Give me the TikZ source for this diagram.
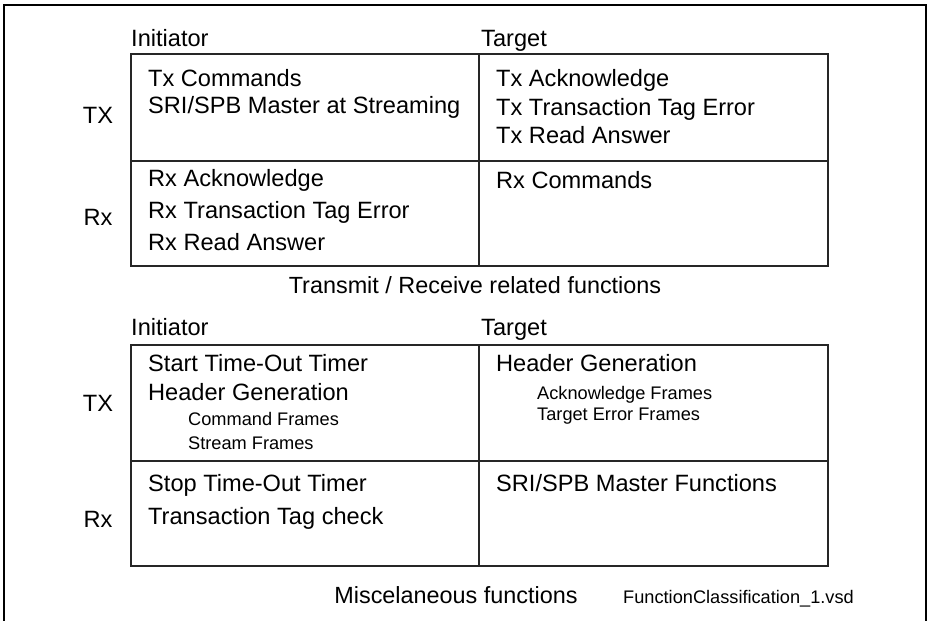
\documentclass[tikz,border=0pt]{standalone}
\usepackage{fontspec}
\setmainfont{Liberation Sans}

\begin{document}
\begin{tikzpicture}[x=1pt,y=-1pt,
  txt/.style={anchor=base west,inner sep=0pt,font=\fontsize{23.6}{28}\selectfont},
  subtxt/.style={anchor=base west,inner sep=0pt,font=\fontsize{18.2}{22}\selectfont},
  rowlbl/.style={inner sep=0pt,font=\fontsize{23.6}{28}\selectfont},
  caption/.style={anchor=base,inner sep=0pt,font=\fontsize{23.4}{28}\selectfont},
  grid/.style={line width=1.2pt,black!85}]
\useasboundingbox (0,0) rectangle (927,621);
% Marc exterior (obert per baix)
\draw[line width=1.5pt] (4,621) -- (4,5) -- (926,5) -- (926,621);

% Taula superior: Tx/Rx
\draw[grid] (131,54) rectangle (828,266);
\draw[grid] (479,54) -- (479,266);
\draw[grid] (131,161) -- (828,161);
\node[txt] (iniA) at (131,46) {Initiator};
\node[txt] (tarA) at (481,46) {Target};
\node[rowlbl] (txA) at (98,115) {TX};
\node[rowlbl] (rxA) at (98,217) {Rx};
\node[txt] (txcmd) at (148,86) {Tx Commands};
\node[txt] (txsri) at (148,113) {SRI/SPB Master at Streaming};
\node[txt] (txack) at (496,86) {Tx Acknowledge};
\node[txt] (txtag) at (496,115) {Tx Transaction Tag Error};
\node[txt] (txread) at (496,143) {Tx Read Answer};
\node[txt] (rxack) at (148,186) {Rx Acknowledge};
\node[txt] (rxtag) at (148,218) {Rx Transaction Tag Error};
\node[txt] (rxread) at (148,250) {Rx Read Answer};
\node[txt] (rxcmd) at (496,188) {Rx Commands};
\node[caption] (capA) at (475,293) {Transmit / Receive related functions};

% Taula inferior: funcions diverses
\draw[grid] (131,345) rectangle (828,566);
\draw[grid] (479,345) -- (479,566);
\draw[grid] (131,461) -- (828,461);
\node[txt] (iniB) at (131,335) {Initiator};
\node[txt] (tarB) at (481,335) {Target};
\node[rowlbl] (txB) at (98,403) {TX};
\node[rowlbl] (rxB) at (98,519) {Rx};
\node[txt] (start) at (148,371) {Start Time-Out Timer};
\node[txt] (hdrI) at (148,400) {Header Generation};
\node[subtxt] (cmdfr) at (188,425) {Command Frames};
\node[subtxt] (strfr) at (188,449) {Stream Frames};
\node[txt] (hdrT) at (496,371) {Header Generation};
\node[subtxt] (ackfr) at (537,399) {Acknowledge Frames};
\node[subtxt] (errfr) at (537,420) {Target Error Frames};
\node[txt] (stop) at (148,491) {Stop Time-Out Timer};
\node[txt] (tagchk) at (148,524) {Transaction Tag check};
\node[txt] (sriT) at (496,491) {SRI/SPB Master Functions};
\node[caption] (capB) at (456,603) {Miscelaneous functions};
\node[subtxt] (fname) at (623,603) {FunctionClassification\_1.vsd};
\end{tikzpicture}
\end{document}
